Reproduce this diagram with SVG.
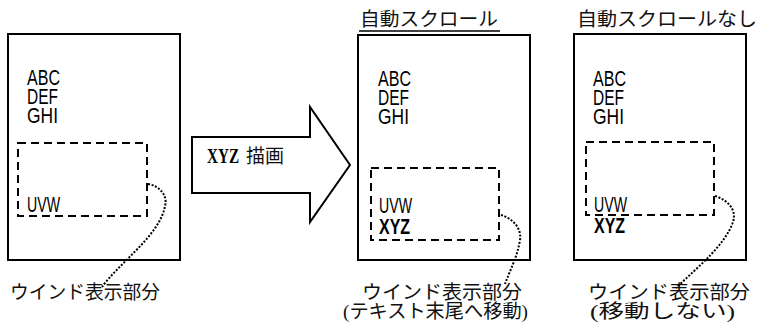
<svg xmlns="http://www.w3.org/2000/svg" width="758" height="322" viewBox="0 0 758 322">
<style>
.box{fill:#fff;stroke:#000;stroke-width:2}
.win{fill:none;stroke:#000;stroke-width:2;stroke-dasharray:8 5}
.dot{fill:none;stroke:#000;stroke-width:2;stroke-dasharray:2 1.6}
.t{font-family:"Liberation Sans",Arial,sans-serif;font-size:22px;fill:#000}
.b{font-weight:bold}
.j{font-family:"Liberation Serif","Noto Sans CJK JP",serif;font-size:19px;fill:#111}
</style>
<g id="before">
<rect class="box" x="8" y="34" width="172" height="226"/>
<text class="t" x="27" y="85" textLength="33" lengthAdjust="spacingAndGlyphs">ABC</text>
<text class="t" x="27" y="104" textLength="31" lengthAdjust="spacingAndGlyphs">DEF</text>
<text class="t" x="27" y="123" textLength="31" lengthAdjust="spacingAndGlyphs">GHI</text>
<rect class="win" x="18" y="143" width="129" height="73"/>
<text class="t" x="27" y="212" textLength="33" lengthAdjust="spacingAndGlyphs">UVW</text>
</g>
<g id="arrow">
<polygon points="192,137 310,137 310,107 350,165 310,222 310,193 192,193" fill="#fff" stroke="#000" stroke-width="2"/>
<text x="207" y="163" font-family="Liberation Serif,serif" font-size="20" font-weight="bold" textLength="32" lengthAdjust="spacingAndGlyphs">XYZ</text>
<text class="j" x="246" y="163" font-size="20">描画</text>
</g>
<g id="autoscroll">
<text class="j" x="360" y="26" font-size="20" textLength="138" lengthAdjust="spacingAndGlyphs">自動スクロール</text>
<line x1="359" y1="31" x2="500" y2="31" stroke="#000" stroke-width="1.5"/>
<rect class="box" x="358" y="35" width="172" height="225"/>
<text class="t" x="378" y="86" textLength="33" lengthAdjust="spacingAndGlyphs">ABC</text>
<text class="t" x="378" y="105" textLength="31" lengthAdjust="spacingAndGlyphs">DEF</text>
<text class="t" x="378" y="124" textLength="31" lengthAdjust="spacingAndGlyphs">GHI</text>
<rect class="win" x="371" y="168" width="128" height="72"/>
<text class="t" x="379" y="213" textLength="33" lengthAdjust="spacingAndGlyphs">UVW</text>
<text class="t b" x="379" y="234" textLength="31" lengthAdjust="spacingAndGlyphs">XYZ</text>
</g>
<g id="noscroll">
<text class="j" x="577" y="26" font-size="20" textLength="180" lengthAdjust="spacingAndGlyphs">自動スクロールなし</text>
<rect class="box" x="574" y="34" width="172" height="226"/>
<text class="t" x="593" y="86" textLength="33" lengthAdjust="spacingAndGlyphs">ABC</text>
<text class="t" x="593" y="105" textLength="31" lengthAdjust="spacingAndGlyphs">DEF</text>
<text class="t" x="593" y="124" textLength="31" lengthAdjust="spacingAndGlyphs">GHI</text>
<rect class="win" x="586" y="142" width="128" height="73"/>
<text class="t" x="594" y="212" textLength="33" lengthAdjust="spacingAndGlyphs">UVW</text>
<text class="t b" x="594" y="233" textLength="31" lengthAdjust="spacingAndGlyphs">XYZ</text>
</g>
<g id="labels">
<text class="j" x="10" y="299" textLength="150" lengthAdjust="spacingAndGlyphs">ウインド表示部分</text>
<text class="j" x="362" y="299" textLength="160" lengthAdjust="spacingAndGlyphs">ウインド表示部分</text>
<text class="j" x="343" y="318" textLength="185" lengthAdjust="spacingAndGlyphs">(テキスト末尾へ移動)</text>
<text class="j" x="588" y="299" textLength="162" lengthAdjust="spacingAndGlyphs">ウインド表示部分</text>
<text class="j" x="590" y="318" textLength="145" lengthAdjust="spacingAndGlyphs">(移動しない)</text>
</g>
<g id="connectors">
<path class="dot" d="M148,184 C160,186 168,196 165,206 C160,235 120,262 102,287"/>
<path class="dot" d="M501,215 C512,218 522,228 520,240 C517,258 510,270 505,284"/>
<path class="dot" d="M715,196 C728,200 737,210 733,222 C725,245 700,265 676,288"/>
</g>
</svg>
